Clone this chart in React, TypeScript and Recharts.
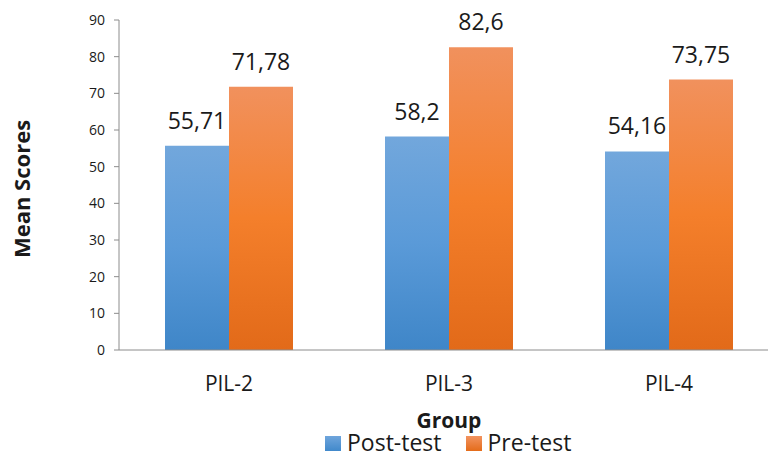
import { BarChart, Bar, XAxis, YAxis, Legend, LabelList, Label } from "recharts"

const groups = ["PIL-2", "PIL-3", "PIL-4"]
const postTest = [55.71, 58.2, 54.16]
const preTest = [71.78, 82.6, 73.75]
const yTicks = [0, 10, 20, 30, 40, 50, 60, 70, 80, 90]

const chartData = groups.map((g, i) => ({
  group: g,
  post: postTest[i],
  pre: preTest[i],
}))

const FONT = "'Open Sans', 'Noto Sans', sans-serif"
const TEXT = "#1a1a1a"
const AXIS = "#8c8c8c"

// decimal comma like the original
const fmt = (v: any) => String(v).replace(".", ",")

function LegendBox() {
  const items = [
    { name: "Post-test", bg: "linear-gradient(#6fa5dc, #4189cb)" },
    { name: "Pre-test", bg: "linear-gradient(#f29360, #e46c1a)" },
  ]
  return (
    <div style={{ display: "flex", alignItems: "center", fontFamily: FONT, fontSize: 23, color: TEXT, lineHeight: "24px" }}>
      {items.map((it, i) => (
        <div key={it.name} style={{ display: "flex", alignItems: "center", marginRight: i === 0 ? 24 : 0 }}>
          <span style={{ width: 16, height: 15, marginRight: 6, marginTop: 3, background: it.bg, display: "inline-block" }} />
          {it.name}
        </div>
      ))}
    </div>
  )
}

export default function App() {
  return (
    <div style={{ position: "absolute", left: 0, top: 0, width: 768, height: 454, overflow: "hidden", background: "#fff" }}>
      <BarChart
        width={790}
        height={454}
        data={chartData}
        margin={{ top: 20, right: 11, left: 0, bottom: 0 }}
        barGap={0}
        barSize={64}
      >
        <defs>
          <linearGradient id="postFill" x1="0" y1="0" x2="0" y2="1">
            <stop offset="0%" stopColor="#72a7dc" />
            <stop offset="50%" stopColor="#5a9ad8" />
            <stop offset="100%" stopColor="#3f86c8" />
          </linearGradient>
          <linearGradient id="preFill" x1="0" y1="0" x2="0" y2="1">
            <stop offset="0%" stopColor="#f1915d" />
            <stop offset="50%" stopColor="#f47f2b" />
            <stop offset="100%" stopColor="#e26a19" />
          </linearGradient>
        </defs>
        <XAxis
          dataKey="group"
          height={80}
          tickLine={false}
          tickSize={6}
          tickMargin={20}
          axisLine={{ stroke: AXIS }}
          tick={{ fontSize: 21, fill: TEXT, fontFamily: FONT }}
        >
          <Label
            content={({ viewBox }: any) => (
              <text
                x={viewBox.x + viewBox.width / 2}
                y={viewBox.y + 78}
                textAnchor="middle"
                fontFamily={FONT}
                fontSize={21}
                fontWeight={700}
                fill={TEXT}
              >
                Group
              </text>
            )}
          />
        </XAxis>
        <YAxis
          width={119}
          domain={[0, 90]}
          ticks={yTicks}
          interval={0}
          tickSize={5}
          tickMargin={9}
          axisLine={{ stroke: AXIS }}
          tickLine={{ stroke: AXIS }}
          tick={{ fontSize: 14, fill: TEXT, fontFamily: FONT }}
        >
          <Label
            content={({ viewBox }: any) => (
              <text
                transform={`translate(30, ${viewBox.y + viewBox.height / 2 + 4}) rotate(-90)`}
                textAnchor="middle"
                fontFamily={FONT}
                fontSize={22}
                fontWeight={700}
                fill={TEXT}
              >
                Mean Scores
              </text>
            )}
          />
        </YAxis>
        <Legend
          verticalAlign="bottom"
          content={() => <LegendBox />}
          wrapperStyle={{ left: 325, bottom: 0, width: 300, height: 24 }}
        />
        <Bar dataKey="post" name="Post-test" fill="url(#postFill)" isAnimationActive={false}>
          <LabelList dataKey="post" position="top" offset={17} formatter={fmt} style={{ fontSize: 23, fill: TEXT, fontFamily: FONT }} />
        </Bar>
        <Bar dataKey="pre" name="Pre-test" fill="url(#preFill)" isAnimationActive={false}>
          <LabelList dataKey="pre" position="top" offset={17} formatter={fmt} style={{ fontSize: 23, fill: TEXT, fontFamily: FONT }} />
        </Bar>
      </BarChart>
    </div>
  )
}
